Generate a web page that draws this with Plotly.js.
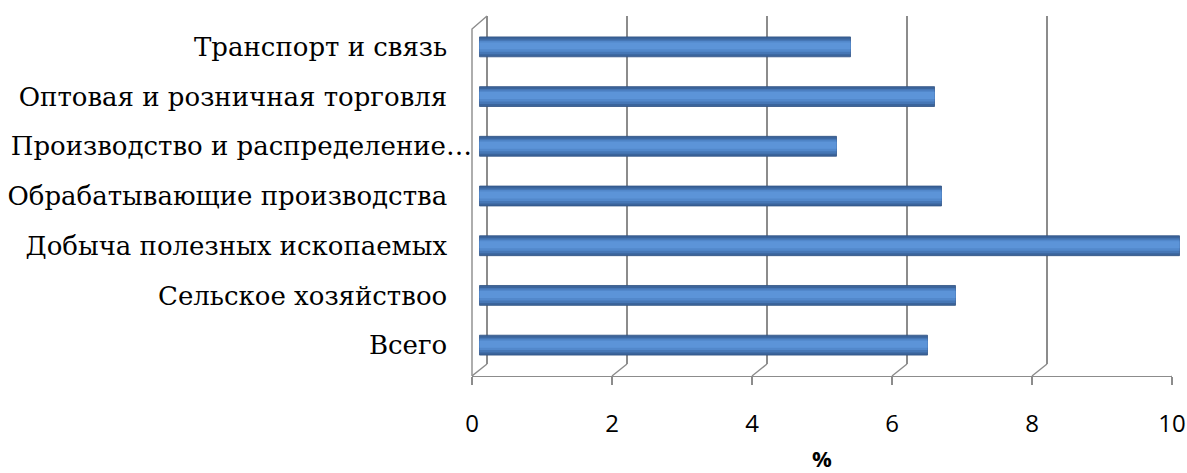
<!DOCTYPE html>
<html>
<head>
<meta charset="utf-8">
<script src="https://cdn.plot.ly/plotly-3.0.1.min.js"></script>
<style>html,body{margin:0;padding:0;background:#fff;}#chart{width:1187px;height:473px;}</style>
</head>
<body>
<div id="chart"></div>
<script>
// Data (bottom to top)
const categories = [
  "Всего",
  "Сельское хозяйствоо",
  "Добыча полезных ископаемых",
  "Обрабатывающие производства",
  "Производство и распределение…",
  "Оптовая и розничная торговля",
  "Транспорт и связь"
];
const values = [6.4, 6.8, 10.0, 6.6, 5.1, 6.5, 5.3];
const tickValues = [0, 2, 4, 6, 8, 10];
const tickLabels = ["0", "2", "4", "6", "8", "10"];
const axisTitle = "%";

const gridColor = "#8c8c8c";
const serif = "DejaVu Serif, Liberation Serif, Times New Roman, serif";
const sans = "Open Sans";

// truncated label sticks out further right, like the original
const categoryText = categories.map(c => c.endsWith("…") ? c : c + "\u00a0\u00a0\u00a0");

const bandStyles = [
  {offset: -0.20, width: 0.40, color: "#3b649b", line: "#2e5283"},
  {offset: -0.15, width: 0.30, color: "#4677b6", line: null},
  {offset: -0.10, width: 0.22, color: "#5288cb", line: null},
  {offset: -0.05, width: 0.14, color: "#5c94d8", line: null}
];
const traces = bandStyles.map(s => ({
  type: "bar", orientation: "h",
  x: values, y: categories,
  xaxis: "x3", yaxis: "y3",
  offset: s.offset, width: s.width,
  marker: {color: s.color, line: {color: s.line || s.color, width: s.line ? 0.8 : 0}},
  hoverinfo: "skip", showlegend: false
}));
traces.unshift({type: "scatter", x: [], y: [], xaxis: "x2", yaxis: "y2", showlegend: false, hoverinfo: "skip"});
traces.unshift({type: "scatter", x: [], y: [], xaxis: "x", yaxis: "y", showlegend: false, hoverinfo: "skip"});

const L = 472, T = 16, W = 715, H = 360;
const px = v => (v - L) / W;
const py = v => (T + H - v) / H;

const shapes = [];
shapes.push({type: "path", xref: "paper", yref: "paper",
  path: `M ${px(472)},${py(376)} L ${px(472)},${py(29)} L ${px(487)},${py(16)}`,
  line: {color: gridColor, width: 1.4}, layer: "below"});
tickValues.forEach(v => {
  shapes.push({type: "line", xref: "x2", xsizemode: "pixel", xanchor: v, x0: 0, x1: 15,
    yref: "paper", ysizemode: "pixel", yanchor: 0, y0: 0, y1: 12,
    line: {color: gridColor, width: 1.4}, layer: "below"});
});

const layout = {
  width: 1187, height: 473,
  margin: {l: L, r: 0, t: T, b: 473 - T - H, pad: 0},
  paper_bgcolor: "#ffffff",
  plot_bgcolor: "rgba(0,0,0,0)",
  barmode: "overlay",
  showlegend: false,
  xaxis: {domain: [px(487), 1], range: [-0.002, 10.002], anchor: "y",
    tickvals: tickValues, showgrid: true, gridcolor: gridColor, gridwidth: 1.4,
    zeroline: true, zerolinecolor: gridColor, zerolinewidth: 1.4,
    showticklabels: false, ticks: "", showline: false, fixedrange: true},
  yaxis: {domain: [py(364), 1], range: [0, 1], anchor: "x", visible: false, fixedrange: true},
  xaxis2: {domain: [0, px(1172)], range: [0, 10], anchor: "y2",
    tickvals: tickValues, ticktext: tickLabels,
    showgrid: false, zeroline: false, showline: true, linecolor: gridColor, linewidth: 1.4,
    ticks: "outside", ticklen: 8, tickwidth: 1.4, tickcolor: gridColor,
    ticklabelstandoff: 18,
    tickfont: {family: sans, size: 24, color: "#000"},
    fixedrange: true},
  yaxis2: {domain: [0, 0.05], range: [0, 1], anchor: "x2", visible: false, fixedrange: true},
  xaxis3: {domain: [0, 1], range: [(L - 479.5) / 70, (L - 479.5) / 70 + W / 70], anchor: "y3",
    visible: false, fixedrange: true},
  yaxis3: {domain: [py(370), py(22)], anchor: "free", position: 0, type: "category",
    categoryorder: "array", categoryarray: categories,
    tickvals: categories, ticktext: categoryText,
    showgrid: false, zeroline: false, showline: false,
    ticks: "",
    tickfont: {family: serif, size: 26, color: "#000"},
    fixedrange: true},
  shapes: shapes,
  annotations: [{
    xref: "paper", yref: "paper", x: px(822), y: py(458),
    xanchor: "center", yanchor: "middle", showarrow: false,
    text: "<b>" + axisTitle + "</b>",
    font: {family: sans, size: 22, color: "#000"}
  }]
};

Plotly.newPlot("chart", traces, layout, {displayModeBar: false, staticPlot: true});
</script>
</body>
</html>
